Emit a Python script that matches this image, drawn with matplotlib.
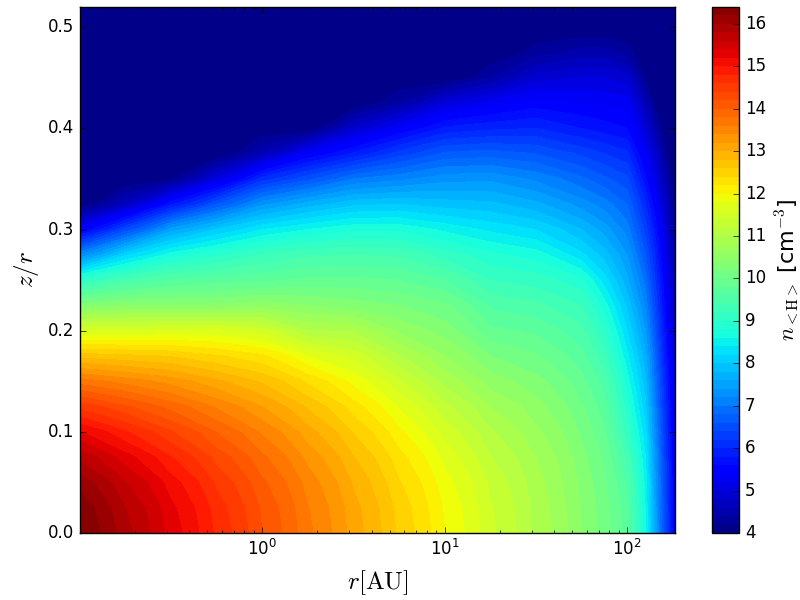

import matplotlib

matplotlib.use("Agg")
import matplotlib.pyplot as plt
import numpy as np

r_au = [0.1, 0.178, 0.316, 0.562, 1, 1.78, 3.16, 5.62, 10, 17.8, 31.6, 56.2, 75, 100, 126, 141, 158, 172, 183]
z_over_r = [0.0, 0.025, 0.05, 0.075, 0.1, 0.125, 0.15, 0.175, 0.2, 0.225, 0.25, 0.275, 0.3,
            0.325, 0.35, 0.375, 0.4, 0.425, 0.45, 0.475, 0.5, 0.52]

# log10 density, one list per radius, going up in z/r
n_r010 = [16.42, 16.34, 16.12, 15.74, 15.21, 14.53, 13.7, 12.71, 11.58, 10.29, 9.0, 7.2, 5.4, 3.6, 3, 3, 3, 3, 3, 3, 3, 3]
n_r018 = [15.87, 15.8, 15.61, 15.28, 14.82, 14.23, 13.51, 12.65, 11.6, 10.4, 9.4, 8.15, 6.45, 4.7, 3, 3, 3, 3, 3, 3, 3, 3]
n_r032 = [15.31, 15.25, 15.09, 14.81, 14.42, 13.92, 13.31, 12.58, 11.65, 10.4, 9.6, 8.7, 7.5, 5.75, 4.15, 3, 3, 3, 3, 3, 3, 3]
n_r056 = [14.75, 14.7, 14.56, 14.32, 13.99, 13.56, 13.04, 12.42, 11.65, 10.4, 9.7, 8.95, 8.0, 6.6, 5.05, 3.5, 3, 3, 3, 3, 3, 3]
n_r1 = [14.2, 14.16, 14.04, 13.84, 13.56, 13.2, 12.76, 12.24, 11.5, 10.5, 9.75, 9.2, 8.4, 7.35, 6.1, 4.6, 3.2, 3, 3, 3, 3, 3]
n_r18 = [13.65, 13.61, 13.51, 13.33, 13.08, 12.76, 12.35, 11.8, 11.0, 10.4, 9.85, 9.35, 8.6, 7.7, 6.55, 5.4, 4.0, 3, 3, 3, 3, 3]
n_r32 = [13.1, 13.07, 12.97, 12.81, 12.58, 12.29, 11.93, 11.51, 10.98, 10.3, 9.85, 9.4, 8.75, 7.95, 7.0, 5.85, 4.85, 3.6, 3, 3, 3, 3]
n_r56 = [12.55, 12.52, 12.42, 12.27, 12.05, 11.77, 11.42, 11.02, 10.55, 10.2, 9.8, 9.35, 8.75, 8.0, 7.15, 6.3, 5.4, 4.4, 3.3, 3, 3, 3]
n_r10 = [12.0, 11.97, 11.88, 11.73, 11.52, 11.25, 10.92, 10.6, 10.3, 10.05, 9.6, 9.1, 8.55, 7.9, 7.32, 6.65, 5.85, 5.0, 3.95, 3, 3, 3]
n_r18b = [11.45, 11.42, 11.35, 11.21, 11.03, 10.79, 10.5, 10.2, 9.85, 9.55, 9.2, 8.85, 8.35, 7.85, 7.35, 6.7, 5.95, 5.3, 4.4, 3.45, 3, 3]
n_r32b = [10.95, 10.93, 10.88, 10.79, 10.65, 10.48, 10.27, 10.03, 9.75, 9.45, 9.1, 8.7, 8.2, 7.65, 7.15, 6.6, 6.0, 5.5, 4.9, 4.3, 3.6, 3]
n_r56b = [10.4, 10.38, 10.34, 10.27, 10.16, 10.03, 9.87, 9.67, 9.45, 9.2, 8.85, 8.25, 7.8, 7.3, 6.85, 6.35, 5.8, 5.4, 5.0, 4.5, 3.9, 3.4]
n_r75 = [10.1, 10.08, 10.03, 9.95, 9.83, 9.68, 9.5, 9.25, 9.0, 8.7, 8.3, 7.9, 7.5, 7.1, 6.65, 6.2, 5.7, 5.35, 5.0, 4.5, 3.95, 3.45]
n_r100 = [9.7, 9.66, 9.55, 9.35, 9.1, 8.9, 8.7, 8.45, 8.2, 7.95, 7.65, 7.4, 7.1, 6.8, 6.45, 6.05, 5.6, 5.3, 4.9, 4.3, 3.8, 3.5]
n_r126 = [8.6, 8.58, 8.52, 8.4, 8.25, 8.05, 7.85, 7.65, 7.4, 7.15, 6.9, 6.6, 6.3, 6.0, 5.65, 5.3, 4.95, 4.6, 4.2, 3.8, 3.4, 3]
n_r141 = [7.6, 7.58, 7.52, 7.42, 7.3, 7.15, 7.0, 6.85, 6.65, 6.45, 6.25, 6.05, 5.8, 5.5, 5.2, 4.9, 4.55, 4.2, 3.85, 3.5, 3.1, 3]
n_r158 = [6.6, 6.58, 6.53, 6.45, 6.35, 6.25, 6.15, 6.0, 5.85, 5.7, 5.55, 5.35, 5.15, 4.9, 4.65, 4.4, 4.1, 3.8, 3.5, 3.2, 3, 3]
n_r172 = [5.9, 5.88, 5.84, 5.78, 5.7, 5.62, 5.52, 5.4, 5.25, 5.1, 4.95, 4.8, 4.65, 4.45, 4.25, 4.05, 3.8, 3.5, 3.2, 3, 3, 3]
n_r183 = [5.3, 5.28, 5.25, 5.2, 5.12, 5.05, 4.97, 4.88, 4.78, 4.68, 4.58, 4.47, 4.35, 4.2, 4.05, 3.9, 3.65, 3.4, 3.1, 3, 3, 3]

levels = np.arange(4.0, 16.41, 0.2)
cbar_ticks = list(range(4, 17))

plt.style.use("classic")
plt.rcParams["mathtext.fontset"] = "cm"

fig = plt.figure(figsize=(8, 6), dpi=100)
ax = fig.add_axes([0.1, 0.1117, 0.74375, 0.8767])
cax = fig.add_axes([0.89, 0.1117, 0.034, 0.8767])

columns = [n_r010, n_r018, n_r032, n_r056, n_r1, n_r18, n_r32, n_r56, n_r10, n_r18b, n_r32b,
           n_r56b, n_r75, n_r100, n_r126, n_r141, n_r158, n_r172, n_r183]
density = np.clip(np.array(columns).T, 4.0, 16.4)
cs = ax.contourf(r_au, z_over_r, density, levels=levels, cmap="jet")
ax.set_xscale("log")
ax.set_xlim(0.1005, 183)
ax.set_ylim(0, 0.52)
ax.set_xlabel(r"$r[{\rm AU}]$", fontsize=18, labelpad=7)
ax.set_ylabel(r"$z/r$", fontsize=18)

cb = fig.colorbar(cs, cax=cax, ticks=cbar_ticks)
cb.set_label(r"$n_{\rm <H>}$ [cm$^{-3}$]", fontsize=16)

fig.savefig("out.png", dpi=100)
